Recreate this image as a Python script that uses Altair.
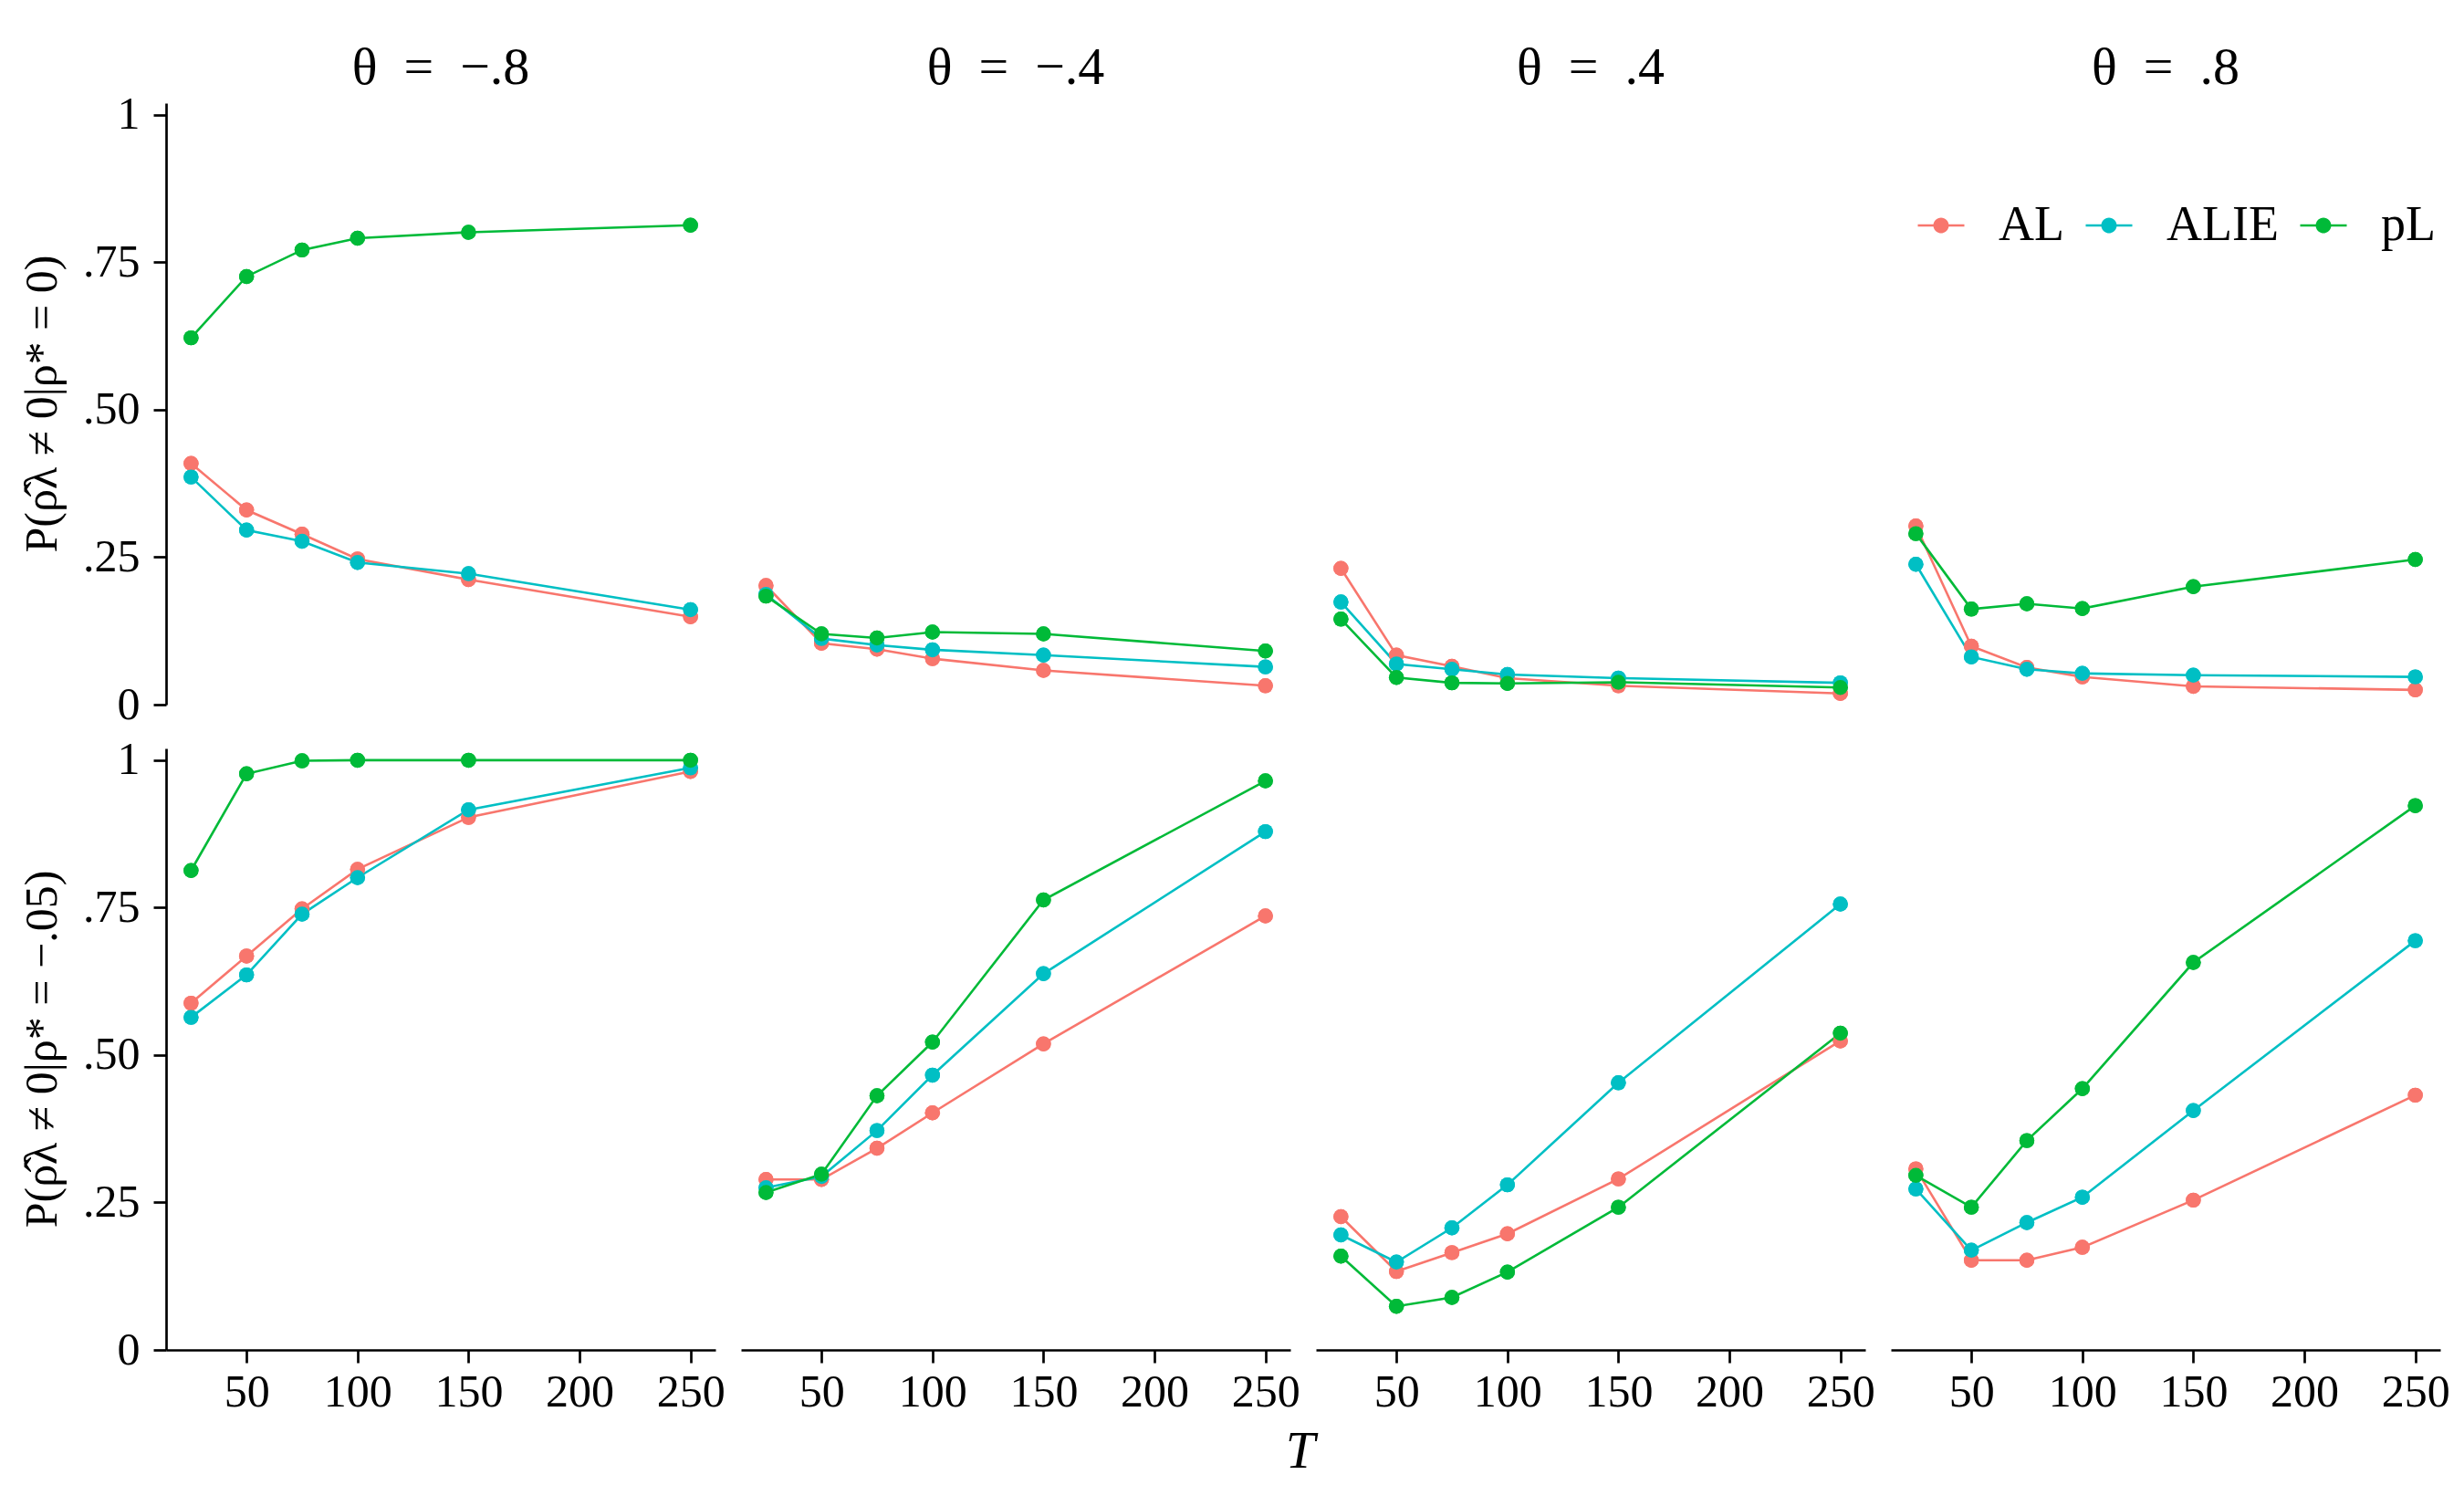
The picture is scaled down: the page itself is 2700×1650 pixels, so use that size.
import altair as alt
import pandas as pd

# ---------------- data ----------------
T_values = [25, 50, 75, 100, 150, 250]
methods = ["AL", "ALIE", "pL"]
colors = ["#F8766D", "#00BFC4", "#00BA38"]
theta_labels = ["θ\u2002=\u2002−.8", "θ\u2002=\u2002−.4", "θ\u2002=\u2002.4", "θ\u2002=\u2002.8"]
row_labels = ["P(ρ\u0302λ ≠ 0|ρ* = 0)", "P(ρ\u0302λ ≠ 0|ρ* = −.05)"]

# top row: rho* = 0   (one list per theta panel)
top_AL = [
    [0.409, 0.330, 0.289, 0.247, 0.212, 0.149],
    [0.202, 0.104, 0.094, 0.078, 0.058, 0.032],
    [0.231, 0.084, 0.065, 0.045, 0.032, 0.019],
    [0.303, 0.099, 0.063, 0.047, 0.031, 0.025],
]
top_ALIE = [
    [0.386, 0.296, 0.277, 0.241, 0.222, 0.161],
    [0.187, 0.112, 0.101, 0.093, 0.084, 0.064],
    [0.174, 0.069, 0.060, 0.051, 0.045, 0.037],
    [0.238, 0.081, 0.060, 0.053, 0.050, 0.047],
]
top_pL = [
    [0.622, 0.726, 0.771, 0.791, 0.801, 0.813],
    [0.184, 0.120, 0.113, 0.123, 0.120, 0.091],
    [0.145, 0.046, 0.037, 0.036, 0.038, 0.029],
    [0.290, 0.162, 0.171, 0.163, 0.200, 0.246],
]
# bottom row: rho* = -.05
bot_AL = [
    [0.588, 0.668, 0.748, 0.815, 0.903, 0.981],
    [0.289, 0.289, 0.342, 0.402, 0.519, 0.736],
    [0.226, 0.133, 0.165, 0.197, 0.290, 0.524],
    [0.307, 0.152, 0.152, 0.174, 0.254, 0.432],
]
bot_ALIE = [
    [0.564, 0.636, 0.739, 0.801, 0.916, 0.987],
    [0.275, 0.294, 0.372, 0.466, 0.638, 0.879],
    [0.195, 0.149, 0.207, 0.280, 0.453, 0.756],
    [0.273, 0.169, 0.216, 0.259, 0.406, 0.694],
]
bot_pL = [
    [0.813, 0.977, 0.999, 1.000, 1.000, 1.000],
    [0.267, 0.298, 0.431, 0.522, 0.763, 0.965],
    [0.159, 0.074, 0.089, 0.132, 0.242, 0.537],
    [0.296, 0.242, 0.355, 0.443, 0.657, 0.923],
]

series = {
    (0, "AL"): top_AL, (0, "ALIE"): top_ALIE, (0, "pL"): top_pL,
    (1, "AL"): bot_AL, (1, "ALIE"): bot_ALIE, (1, "pL"): bot_pL,
}

records = []
for m in methods:
    for r in range(2):
        for c in range(4):
            for t, v in zip(T_values, series[(r, m)][c]):
                records.append({"row": row_labels[r], "theta": theta_labels[c],
                                "method": m, "T": t, "value": v})
df = pd.DataFrame(records)

FONT = "Liberation Serif"
PAD_L, PAD_T = 13, 38

x_enc = alt.X("T:Q",
              scale=alt.Scale(domain=[13.75, 261.25], nice=False, zero=False),
              axis=alt.Axis(values=[50, 100, 150, 200, 250], title=None, labelPadding=7))
y_enc = alt.Y("value:Q",
              scale=alt.Scale(domain=[0, 1.02], nice=False, zero=False),
              axis=alt.Axis(values=[0, 0.25, 0.5, 0.75, 1], title=None, labelPadding=15,
                            labelExpr="datum.value == 0 ? '0' : (datum.value == 1 ? '1' : replace(format(datum.value, '.2f'), '0.', '.'))"))
color_scale = alt.Scale(domain=methods, range=colors)

path = ("M-1,-0.05L1,-0.05L1,0.05L-1,0.05Z "
        "M-0.333,0A0.333,0.333 0 1,1 0.333,0A0.333,0.333 0 1,1 -0.333,0Z")

# legend coordinates are relative to the top-left of the first panel
legend = alt.Legend(
    title=None, orient="none", direction="horizontal",
    legendX=1918, legendY=107,
    symbolType=path, symbolSize=2601, symbolStrokeWidth=0, symbolOpacity=1,
    labelOffset=36, columnPadding=22, labelFontSize=54,
    labelFont=FONT, labelColor="black", labelLimit=0,
)

points_legend = alt.Chart().mark_circle(size=270, opacity=1).encode(
    x=x_enc, y=y_enc,
    color=alt.Color("method:N", scale=color_scale, legend=legend),
)
lines = alt.Chart().mark_line(strokeWidth=2.6).encode(
    x=x_enc, y=y_enc,
    color=alt.Color("method:N", scale=color_scale, legend=None),
)
points = alt.Chart().mark_circle(size=270, opacity=1).encode(
    x=x_enc, y=y_enc,
    color=alt.Color("method:N", scale=color_scale, legend=None),
)

chart = alt.layer(points_legend, lines, points, data=df).properties(width=602, height=659).facet(
    row=alt.Row("row:N", sort=row_labels, title=None,
                header=alt.Header(labelOrient="left", labelAngle=-90, labelFontSize=50,
                                  labelFont=FONT, labelColor="black", labelPadding=-6,
                                  labelLimit=0)),
    column=alt.Column("theta:N", sort=theta_labels, title=None,
                      header=alt.Header(labelOrient="top", labelFontSize=58,
                                        labelFont=FONT, labelColor="black",
                                        labelPadding=9, labelLimit=0)),
    spacing={"row": 48, "column": 28},
).properties(
    title=alt.TitleParams("T", orient="bottom", anchor="middle", fontSize=58,
                          font=FONT, fontStyle="italic", fontWeight="normal",
                          color="black", offset=12, dx=72),
    padding={"left": PAD_L, "top": PAD_T, "right": 5, "bottom": 5},
).configure_view(stroke=None).configure_axis(
    domainColor="black", domainWidth=2.7, tickColor="black", tickWidth=2.7,
    tickSize=14, labelFontSize=50, labelFont=FONT, labelColor="black",
    grid=False,
)

chart.save("out.html", embed_options={"renderer": "svg", "actions": False})
